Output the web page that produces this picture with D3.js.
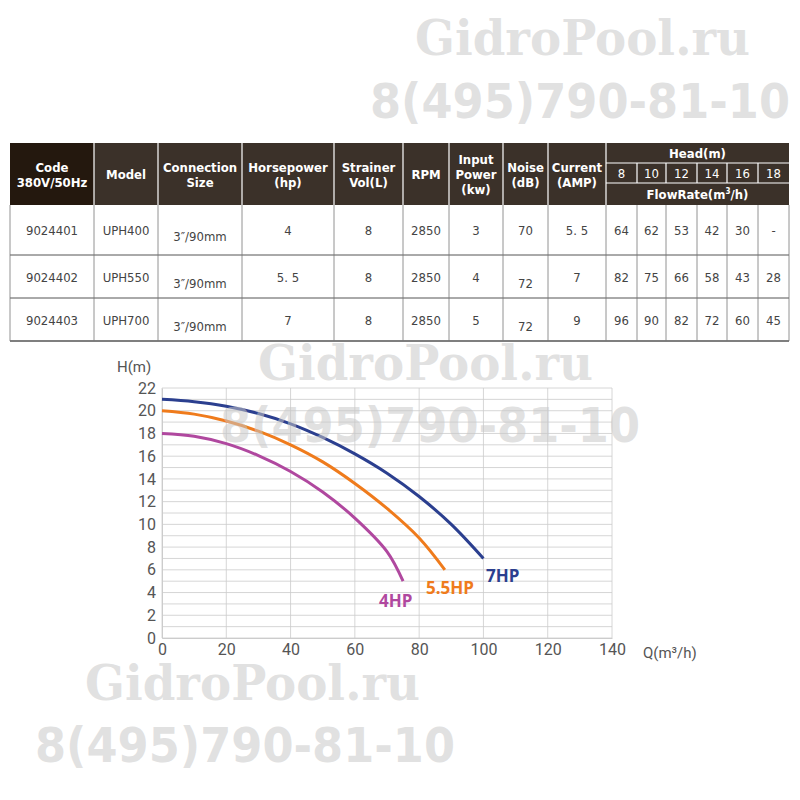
<!DOCTYPE html>
<html><head><meta charset="utf-8">
<script src="https://cdn.jsdelivr.net/npm/d3@7"></script>
<style>body{margin:0;background:#fff}</style></head>
<body><svg id="c" width="800" height="800"></svg>
<script>
const headers=["Code\n380V/50Hz","Model","Connection\nSize","Horsepower\n(hp)","Strainer\nVol(L)","RPM","Input\nPower\n(kw)","Noise\n(dB)","Current\n(AMP)"];
const headValues=["8","10","12","14","16","18"];
const rows=[
 ["9024401","UPH400","3″/90mm","4","8","2850","3","70","5. 5","64","62","53","42","30","-"],
 ["9024402","UPH550","3″/90mm","5. 5","8","2850","4","72","7","82","75","66","58","43","28"],
 ["9024403","UPH700","3″/90mm","7","8","2850","5","72","9","96","90","82","72","60","45"]];
const flowQ=[[0,10,20,30,40,50,60,70,75],[0,10,20,30,40,50,60,70,80,88],[0,10,20,30,40,50,60,70,80,90,100]];
const flowH=[[18,17.75,17.1,16.05,14.65,12.85,10.55,7.6,5],[20,19.7,19.1,18.2,17,15.5,13.6,11.4,8.8,6],[21,20.8,20.4,19.75,18.85,17.65,16.2,14.5,12.45,10,7]];
const seriesNames=["4HP","5.5HP","7HP"];
const seriesColors=["#b0489f","#ef7b1c","#2b3f8f"];
const xTicks=[0,20,40,60,80,100,120,140];
const yTicks=d3.range(0,23,2);

const svg=d3.select("#c");
const colX=[10,94,158,242,334,403,449,503,548,606,637,666,697,727,758,789];
const N=colX.length-1;
const yTop=143,yH1=163,yH2=183,yHB=205,rowY=[205,255,298,341];
const T=svg.append("g").attr("font-family","'Liberation Sans Narrow','DejaVu Sans Condensed',sans-serif");
T.append("rect").attr("x",colX[0]).attr("y",yTop).attr("width",colX[N]-colX[0]).attr("height",yHB-yTop).attr("fill","#3b3129");
T.append("rect").attr("x",colX[0]).attr("y",yTop).attr("width",colX[1]-colX[0]).attr("height",yHB-yTop).attr("fill","#24180e");
const wl=(x1,y1,x2,y2)=>T.append("line").attr("x1",x1).attr("y1",y1).attr("x2",x2).attr("y2",y2).attr("stroke","#fff").attr("stroke-width",1.2);
for(let i=1;i<=9;i++) wl(colX[i],yTop,colX[i],yHB);
for(let i=10;i<N;i++) wl(colX[i],yH1,colX[i],yH2);
wl(colX[9],yH1,colX[N],yH1); wl(colX[9],yH2,colX[N],yH2);
headers.forEach((h,i)=>{const ls=h.split("\n");const cx=(colX[i]+colX[i+1])/2;const cy=(yTop+yHB)/2;
 ls.forEach((l,j)=>T.append("text").attr("x",cx).attr("y",cy+(j-(ls.length-1)/2)*15+5).attr("text-anchor","middle").attr("fill","#fff").attr("font-weight","bold").attr("font-size",13).text(l));});
T.append("text").attr("x",(colX[9]+colX[N])/2).attr("y",158).attr("text-anchor","middle").attr("fill","#fff").attr("font-weight","bold").attr("font-size",13).text("Head(m)");
headValues.forEach((v,i)=>T.append("text").attr("x",(colX[9+i]+colX[10+i])/2).attr("y",178).attr("text-anchor","middle").attr("fill","#fff").attr("font-size",13).text(v));
T.append("text").attr("x",(colX[9]+colX[N])/2).attr("y",199).attr("text-anchor","middle").attr("fill","#fff").attr("font-weight","bold").attr("font-size",13).html("FlowRate(m<tspan dy='-5' font-size='8'>3</tspan><tspan dy='5'>/h)</tspan>");
rows.forEach((r,ri)=>{const y0=rowY[ri],y1=rowY[ri+1];
 r.forEach((v,ci)=>{const cx=(colX[ci]+colX[ci+1])/2;let dy=(ci==2||(ci==7&&ri>0))?6:0;
  T.append("text").attr("x",cx).attr("y",(y0+y1)/2+5+dy).attr("text-anchor","middle").attr("fill","#444").attr("font-size",13).text(v);});
 T.append("line").attr("x1",colX[0]).attr("x2",colX[N]).attr("y1",y1).attr("y2",y1).attr("stroke","#555").attr("stroke-width",ri==2?1.5:1);
});
for(let i=0;i<=N;i++) T.append("line").attr("x1",colX[i]).attr("x2",colX[i]).attr("y1",yHB).attr("y2",rowY[3]).attr("stroke","#777").attr("stroke-width",0.8);

const x=d3.scaleLinear().domain([0,140]).range([162,612]);
const y=d3.scaleLinear().domain([0,22]).range([638,388]);
const G=svg.append("g");
d3.range(0,23).forEach(v=>G.append("line").attr("x1",x(0)).attr("x2",x(140)).attr("y1",y(v)).attr("y2",y(v)).attr("stroke","#ccc").attr("stroke-width",0.8));
xTicks.forEach(v=>G.append("line").attr("x1",x(v)).attr("x2",x(v)).attr("y1",y(0)).attr("y2",y(22)).attr("stroke","#ccc").attr("stroke-width",0.8));
const ax=G.append("g").attr("transform",`translate(0,${y(0)})`).call(d3.axisBottom(x).tickValues(xTicks).tickSize(0).tickPadding(6));
const ay=G.append("g").attr("transform",`translate(${x(0)},0)`).call(d3.axisLeft(y).tickValues(yTicks).tickSize(0).tickPadding(6));
[ax,ay].forEach(a=>{a.select(".domain").attr("stroke","#ccc");a.selectAll("text").attr("font-family","Roboto,sans-serif").attr("font-size",16).attr("fill","#555");});
G.append("text").attr("x",117).attr("y",372).attr("font-family","Roboto,sans-serif").attr("font-size",15).attr("fill","#555").text("H(m)");
G.append("text").attr("x",643).attr("y",658).attr("font-family","Roboto,sans-serif").attr("font-size",15).attr("fill","#555").text("Q(m³/h)");
const line=d3.line().x(d=>x(d[0])).y(d=>y(d[1])).curve(d3.curveCatmullRom);
flowQ.forEach((q,i)=>G.append("path").attr("d",line(q.map((v,j)=>[v,flowH[i][j]]))).attr("fill","none").attr("stroke",seriesColors[i]).attr("stroke-width",3));
const labPos=[[379,607],[426,594],[486,582]];
seriesNames.forEach((n,i)=>G.append("text").attr("x",labPos[i][0]).attr("y",labPos[i][1]).attr("fill",seriesColors[i]).attr("font-family","'Open Sans',sans-serif").attr("font-weight","bold").attr("font-size",17).text(n));

const W=svg.append("g").attr("fill","#c8c8c8").attr("fill-opacity",0.55).attr("font-weight","bold").attr("font-size",48);
[["GidroPool.ru",750,55,"end","DejaVu Serif"],["8(495)790-81-10",790,118,"end","DejaVu Sans"],
 ["GidroPool.ru",258,380,"start","DejaVu Serif"],["8(495)790-81-10",220,442,"start","DejaVu Sans"],
 ["GidroPool.ru",85,700,"start","DejaVu Serif"],["8(495)790-81-10",35,762,"start","DejaVu Sans"]].forEach(w=>
 W.append("text").attr("x",w[1]).attr("y",w[2]).attr("text-anchor",w[3]).attr("font-family",w[4]).attr("textLength",w[0][0]=="G"?335:420).attr("lengthAdjust","spacingAndGlyphs").text(w[0]));
</script></body></html>
